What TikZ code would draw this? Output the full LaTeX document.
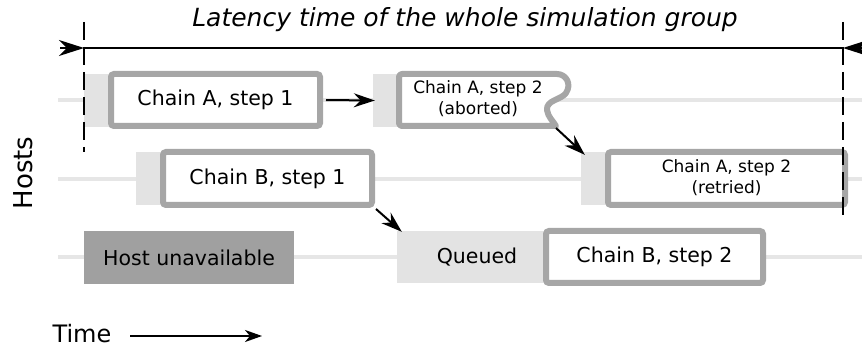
\documentclass[tikz,border=0pt]{standalone}
\usepackage{fontspec}
\setmainfont{DejaVu Sans}
\usetikzlibrary{arrows.meta,calc}
\definecolor{bordergray}{HTML}{A6A6A6}
\definecolor{padgray}{HTML}{E3E3E3}
\definecolor{linegray}{HTML}{E6E6E6}
\definecolor{unavgray}{HTML}{A0A0A0}
\begin{document}
\begin{tikzpicture}[x=1pt,y=-1pt,
  stepbox/.style={draw=bordergray, line width=6pt, fill=white, rounded corners=3pt, inner sep=0pt, font=\fontsize{20.5}{24}\selectfont},
  smalltext/.style={font=\fontsize{17}{21}\selectfont, align=center, inner sep=0pt},
  padbox/.style={fill=padgray, inner sep=0pt, minimum height=53pt},
  hostline/.style={linegray, line width=4pt},
  flow/.style={line width=2pt, -{Stealth[length=21pt,width=14pt,inset=7pt]}},
  timeflow/.style={line width=2pt, -{Stealth[length=17pt,width=12pt,inset=5pt]}},
  latarrow/.style={line width=1.5pt, -{Stealth[length=25pt,width=16pt,inset=8pt]}},
  bound/.style={black, line width=1.5pt, dash pattern=on 18pt off 7pt}]
\useasboundingbox (0,0) rectangle (862,347);

% host lines
\coordinate (h1s) at (58,100); \coordinate (h1e) at (862,100);
\coordinate (h2s) at (58,179); \coordinate (h2e) at (862,179);
\coordinate (h3s) at (58,257.5); \coordinate (h3e) at (862,257.5);
\draw[hostline] (h1s) -- (h1e);
\draw[hostline] (h2s) -- (h2e);
\draw[hostline] (h3s) -- (h3e);

% pads
\node[padbox, minimum width=29pt] (pa1) at (98.5,100.5) {};
\node[padbox, minimum width=28pt] (pa2) at (387,100.5) {};
\node[padbox, minimum width=29pt] (pb1) at (150.5,179) {};
\node[padbox, minimum width=29pt] (pr) at (595.5,179) {};
\node[padbox, minimum width=160pt, minimum height=52pt, font=\fontsize{20.5}{24}\selectfont] (q) at (477,257) {Queued};
\node[fill=unavgray, inner sep=0pt, minimum width=210pt, minimum height=53pt, font=\fontsize{20.5}{24}\selectfont] (hu) at (189,257.5) {Host unavailable};

% boxes
\node[stepbox, minimum width=209pt, minimum height=52pt] (a1) at (215.5,100) {Chain A, step 1};
\node[stepbox, minimum width=209pt, minimum height=53pt] (b1) at (267.5,178.5) {Chain B, step 1};
\node[stepbox, minimum width=237pt, minimum height=53pt] (ar) at (726.5,178.5) {};
\node[smalltext] (artext) at (726.5,178) {Chain A, step 2\\(retried)};
\node[stepbox, minimum width=217pt, minimum height=52pt] (b2) at (654.5,257) {Chain B, step 2};

% aborted box
\draw[bordergray, line width=6pt, fill=white, line join=round]
  (556,126) [rounded corners=3pt] -- (399,126) -- (399,74) -- (554,74) [sharp corners]
  .. controls (566,74) and (572,84) .. (566,93)
  .. controls (561,100) and (546,100) .. (547,110)
  .. controls (548,117) and (553,121) .. (556,126) -- cycle;
\node[smalltext] (a2) at (478,99) {Chain A, step 2\\(aborted)};
\coordinate (a2c) at (556,128);

% connectors
\draw[flow, shorten <=3pt] (a1.east) -- ([xshift=2pt]pa2.west);
\draw[flow] (a2c) -- ([xshift=4pt,yshift=-2.5pt]pr.north west);
\draw[flow] ([xshift=1pt,yshift=-1pt]b1.south east) -- ([xshift=5pt,yshift=-1pt]q.north west);

% latency
\node[anchor=base, font=\fontsize{25}{30}\selectfont\itshape] (title) at (465,27) {Latency time of the whole simulation group};
\coordinate (L) at (84,48); \coordinate (R) at (843,48);
\coordinate (Ls) at (60,48); \coordinate (Rs) at (868,48);
\draw[line width=1.5pt] (L) -- (R);
\draw[latarrow] (Ls) -- (L);
\draw[latarrow] (Rs) -- (R);
\coordinate (dl1) at (84,22); \coordinate (dl2) at (84,152);
\coordinate (dr1) at (843,22); \coordinate (dr2) at (843,218);
\draw[bound] (dl1) -- (dl2);
\draw[bound] (dr1) -- (dr2);

% axes labels
\node[rotate=90, font=\fontsize{26}{30}\selectfont] (hosts) at (23,173) {Hosts};
\node[font=\fontsize{24}{28}\selectfont] (time) at (82,334) {Time};
\coordinate (t1) at (130,336); \coordinate (t2) at (262,336);
\draw[timeflow] (t1) -- (t2);
\end{tikzpicture}
\end{document}
